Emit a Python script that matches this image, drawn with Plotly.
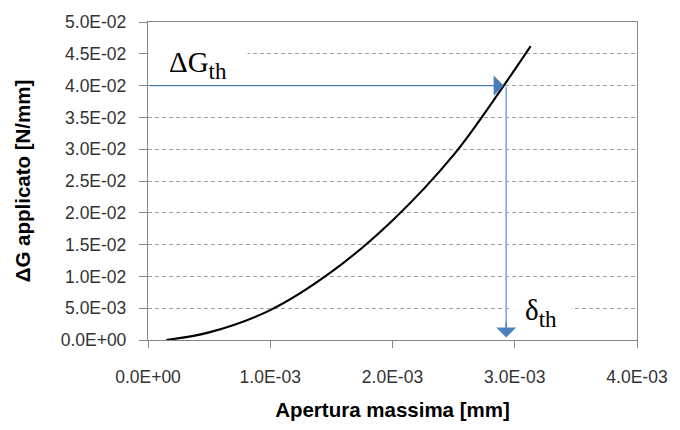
import plotly.graph_objects as go

# Curve data
apertura = [0.15e-3, 0.5e-3, 1.0e-3, 1.5e-3, 2.0e-3, 2.5e-3, 2.91e-3, 3.13e-3]
delta_g = [0.0, 0.0012, 0.0047, 0.0107, 0.0188, 0.0291, 0.040, 0.0462]

# Threshold values
g_th = 0.040
g_th_x = 2.91e-3   # where the horizontal arrow hits the curve
d_th = 2.93e-3     # vertical arrow position

# Ticks
x_ticks = [0.0, 1e-3, 2e-3, 3e-3, 4e-3]
x_labels = ["0.0E+00", "1.0E-03", "2.0E-03", "3.0E-03", "4.0E-03"]
y_ticks = [0.0, 0.005, 0.010, 0.015, 0.020, 0.025, 0.030, 0.035, 0.040, 0.045, 0.050]
y_labels = ["0.0E+00", "5.0E-03", "1.0E-02", "1.5E-02", "2.0E-02", "2.5E-02",
            "3.0E-02", "3.5E-02", "4.0E-02", "4.5E-02", "5.0E-02"]

fig = go.Figure()
fig.add_trace(go.Scatter(
    x=apertura, y=delta_g, mode="lines",
    line=dict(color="black", width=2.1, shape="spline", smoothing=1.0),
    showlegend=False, hoverinfo="skip",
))

axis_font = dict(family="Liberation Sans, Arial, sans-serif", size=17.5, color="#333333")
title_font = dict(family="Liberation Sans, Arial, sans-serif", size=20.5, color="black")

fig.update_layout(
    width=680, height=430,
    margin=dict(l=148, r=38, t=18, b=89),
    paper_bgcolor="white", plot_bgcolor="white",
    xaxis=dict(
        range=[0, 4e-3], tickvals=x_ticks, ticktext=x_labels,
        showgrid=False, zeroline=False,
        showline=True, linecolor="#868686", linewidth=1.3, mirror=True,
        ticks="outside", ticklen=7, tickcolor="#868686", tickwidth=1,
        tickfont=axis_font, ticklabelstandoff=14,
        title=dict(text="<b>Apertura massima [mm]</b>", font=title_font, standoff=16),
    ),
    yaxis=dict(
        range=[0, 0.05], tickvals=y_ticks, ticktext=y_labels,
        showgrid=True, gridcolor="#A0A0A0", griddash="4px,3px", gridwidth=1.2,
        zeroline=False,
        showline=True, linecolor="#868686", linewidth=1.3, mirror=True,
        ticks="outside", ticklen=8, tickcolor="#868686", tickwidth=1,
        tickfont=axis_font, ticklabelstandoff=9,
        title=dict(text="<b>ΔG applicato [N/mm]</b>", font=title_font, standoff=24),
    ),
)

label_font = dict(family="Liberation Serif, Times New Roman, serif", size=29, color="black")
sub = '<sub><span style="font-size:23px">th</span></sub>'

# Text labels with white boxes (cover the gridlines like the original)
fig.add_annotation(
    xref="paper", yref="paper", x=0.0, y=0.866, xanchor="left", yanchor="middle",
    text="ΔG" + sub,
    showarrow=False, font=label_font, bgcolor="white", width=98, height=32,
    align="center", valign="middle", borderpad=0,
)
fig.add_annotation(
    xref="paper", yref="paper", x=0.74, y=0.085, xanchor="left", yanchor="middle",
    text="δ" + sub,
    showarrow=False, font=label_font, bgcolor="white", width=60, height=32,
    align="center", valign="middle", borderpad=0,
)

# Horizontal arrow to the curve
fig.add_annotation(
    x=g_th_x, y=g_th, ax=0, ay=g_th, xref="x", yref="y", axref="x", ayref="y",
    text="", showarrow=True, arrowhead=1, arrowsize=2.6, arrowwidth=1.3,
    arrowcolor="#4A7EBB", standoff=0,
)
# Vertical line down to the x axis (lighter blue)
fig.add_annotation(
    x=d_th, y=0.002, ax=d_th, ay=g_th, xref="x", yref="y", axref="x", ayref="y",
    text="", showarrow=True, arrowhead=0, arrowwidth=1.8,
    arrowcolor="#8AADD9", standoff=0,
)
# Arrow head of the vertical arrow (darker blue)
fig.add_annotation(
    x=d_th, y=0.0004, ax=d_th, ay=0.003, xref="x", yref="y", axref="x", ayref="y",
    text="", showarrow=True, arrowhead=1, arrowsize=2.2, arrowwidth=1.5,
    arrowcolor="#4F81BD", standoff=0,
)

fig.write_html("out.html")
